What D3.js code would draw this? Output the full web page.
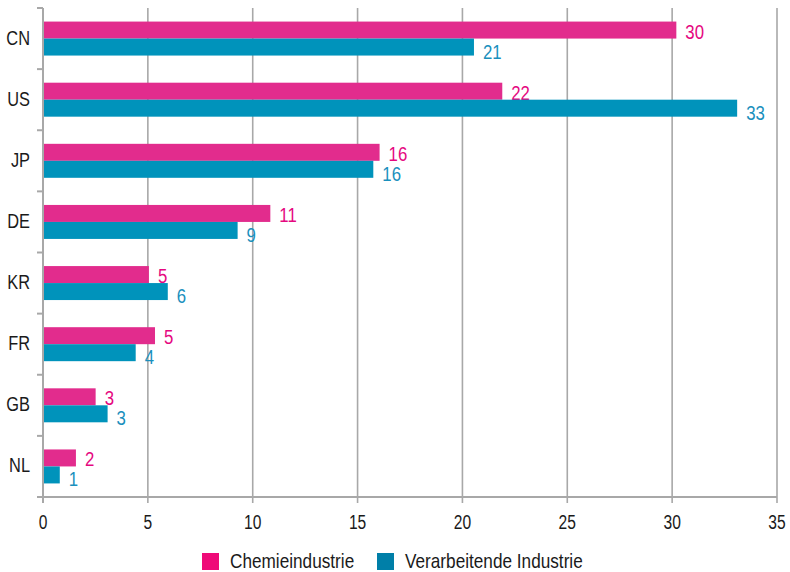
<!DOCTYPE html>
<html><head><meta charset="utf-8">
<script src="https://cdn.jsdelivr.net/npm/d3@7"></script>
<style>
body{margin:0;background:#fff;}
text{font-family:"Liberation Sans",Arial,sans-serif;}
</style></head>
<body>
<svg id="chart" width="790" height="572"></svg>
<script>
const categories = ["CN","US","JP","DE","KR","FR","GB","NL"];
const seriesNames = ["Chemieindustrie","Verarbeitende Industrie"];
const chemValues = [30.2, 21.9, 16.05, 10.84, 5.05, 5.34, 2.51, 1.57];
const manuValues = [20.55, 33.1, 15.75, 9.28, 5.95, 4.42, 3.08, 0.8];
const chemLabels = ["30","22","16","11","5","5","3","2"];
const manuLabels = ["21","33","16","9","6","4","3","1"];
const xTicks = [0,5,10,15,20,25,30,35];

const barColors = ["#e22c8d","#0093bb"];
const legendColors = ["#ef0a78","#007fa8"];
const labelColors = ["#e5087f","#1a90bd"];
const gridColor = "#a8a8a8";
const inkColor = "#1a1a1a";

const svg = d3.select("#chart");
const pLeft = 43, pRight = 777, pTop = 8, pBottom = 497;
const x = d3.scaleLinear().domain([0,35]).range([pLeft,pRight]);
const pin = 0.444;
const y = d3.scaleBand().domain(categories).range([pTop,pBottom]).paddingInner(pin).paddingOuter(pin/2);
const sub = d3.scaleBand().domain([0,1]).range([0,y.bandwidth()]);

// condensed text helper
function ctext(parent, tx, ty, sx, size, fill, anchor, str){
  return parent.append("text")
    .attr("transform",`translate(${tx},${ty}) scale(${sx},1)`)
    .attr("font-size",size).attr("fill",fill).attr("text-anchor",anchor||"start")
    .text(str);
}

// gridlines
svg.append("g").selectAll("line").data(xTicks.filter(d=>d>0)).join("line")
  .attr("x1",d=>x(d)).attr("x2",d=>x(d)).attr("y1",pTop).attr("y2",pBottom+6)
  .attr("stroke",gridColor).attr("stroke-width",1.6);

// bars
const data = categories.map((c,i)=>({c, v:[chemValues[i],manuValues[i]], l:[chemLabels[i],manuLabels[i]]}));
const g = svg.append("g");
data.forEach(d=>{
  [0,1].forEach(s=>{
    g.append("rect")
      .attr("x",x(0)).attr("y",y(d.c)+sub(s))
      .attr("width",x(d.v[s])-x(0)).attr("height",sub.bandwidth())
      .attr("fill",barColors[s]);
    ctext(g, x(d.v[s])+9, y(d.c)+sub(s)+sub.bandwidth()+(s===0?0:3),
      0.8, 21, labelColors[s], "start", d.l[s]);
  });
});

// axes lines
const step = y.step();
const bounds = categories.map(c=>y(c)-step*pin/2).concat([pBottom]);
svg.append("line").attr("x1",pLeft).attr("x2",pLeft).attr("y1",pTop).attr("y2",pBottom+6)
  .attr("stroke",gridColor).attr("stroke-width",2);
svg.append("g").selectAll("line").data(bounds).join("line")
  .attr("x1",pLeft-6).attr("x2",pLeft).attr("y1",d=>d).attr("y2",d=>d)
  .attr("stroke",gridColor).attr("stroke-width",2);
svg.append("line").attr("x1",pLeft).attr("x2",pRight).attr("y1",pBottom).attr("y2",pBottom)
  .attr("stroke",gridColor).attr("stroke-width",2);

// category labels
const cg = svg.append("g");
categories.forEach(c=>{
  ctext(cg, 30, y(c)+y.bandwidth()/2+6, 0.78, 21, inkColor, "end", c);
});

// x tick labels
const tg = svg.append("g");
xTicks.forEach(t=>{
  ctext(tg, x(t), 529, 0.8, 19.5, inkColor, "middle", t);
});

// legend
const legX = [202,377];
seriesNames.forEach((n,i)=>{
  svg.append("rect").attr("x",legX[i]).attr("y",553).attr("width",17).attr("height",17).attr("fill",legendColors[i]);
  ctext(svg, legX[i]+28, 568, 0.86, 20, inkColor, "start", n);
});
</script>
</body></html>
